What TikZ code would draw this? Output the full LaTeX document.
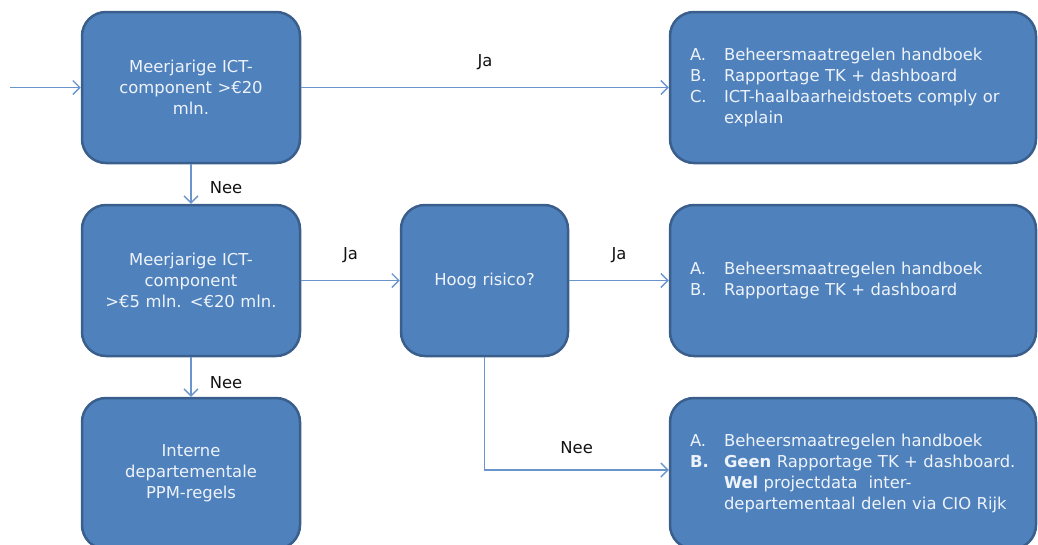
\documentclass[tikz,border=0pt]{standalone}
\usepackage{fontspec}
\setmainfont{DejaVu Sans}
\usetikzlibrary{arrows.meta}
\definecolor{boxfill}{HTML}{4F81BD}
\definecolor{boxline}{HTML}{3A5F8C}
\definecolor{connline}{HTML}{6A95CC}
\definecolor{boxtext}{HTML}{EEF3FA}
\definecolor{labtext}{HTML}{111111}
\tikzset{
  flowbox/.style={draw=boxline, fill=boxfill, line width=2.5pt, rounded corners=24pt,
    minimum height=151pt, text=boxtext, font=\fontsize{16.4}{21}\selectfont, align=center, inner sep=4pt},
  leftbox/.style={flowbox, minimum width=218pt, text width=204pt},
  midbox/.style={flowbox, minimum width=167pt, text width=150pt},
  rightbox/.style={flowbox, minimum width=366pt, text width=326pt, inner xsep=20pt, align=left},
  conn/.style={draw=connline, line width=1.5pt, -{Straight Barb[length=7pt,width=14pt,line width=1.4pt]}},
  lab/.style={text=labtext, font=\fontsize{16.4}{21}\selectfont, inner sep=0pt}
}
\newcommand{\itm}[1]{\makebox[34pt][l]{#1}}
\newcommand{\ind}{\hspace*{34pt}}
\begin{document}
\begin{tikzpicture}[x=1pt,y=-1pt]
\useasboundingbox (0,0) rectangle (1038,544);
\begin{scope}
\clip (0,0) rectangle (1038,544);
\node[leftbox] (b1) at (191,87.5) {Meerjarige ICT-\\component >€20\\mln.};
\node[leftbox] (b2) at (191,280.5) {Meerjarige ICT-\\component\\>€5 mln. <€20 mln.};
\node[leftbox] (b3) at (191,473.5) {Interne\\departementale\\PPM-regels};
\node[midbox] (hr) at (484.5,280.5) {Hoog risico?};
\node[rightbox] (r1) at (853,87.5) {\itm{A.}Beheersmaatregelen handboek\\\itm{B.}Rapportage TK + dashboard\\\itm{C.}ICT-haalbaarheidstoets comply or\\\ind explain};
\node[rightbox] (r2) at (853,280.5) {\itm{A.}Beheersmaatregelen handboek\\\itm{B.}Rapportage TK + dashboard};
\node[rightbox] (r3) at (853,473.5) {\itm{A.}Beheersmaatregelen handboek\\\itm{\textbf{B.}}\textbf{Geen} Rapportage TK + dashboard.\\\ind\textbf{Wel} projectdata\ \ inter-\\\ind departementaal delen via CIO Rijk};
\coordinate (in) at (10,87.5);
\draw[conn] (in) -- (b1);
\draw[conn] (b1) -- node[lab, yshift=25pt]{Ja} (r1);
\draw[conn] (b1) -- node[lab, anchor=west, xshift=18pt, yshift=-4pt]{Nee} (b2);
\draw[conn] (b2) -- node[lab, yshift=25pt]{Ja} (hr);
\draw[conn] (hr) -- node[lab, yshift=25pt]{Ja} (r2);
\draw[conn] (b2) -- node[lab, anchor=west, xshift=18pt, yshift=-6pt]{Nee} (b3);
\draw[conn] (hr.south) |- node[lab, pos=0.75, yshift=22pt]{Nee} ([yshift=3.5pt]r3.west);
\end{scope}
\end{tikzpicture}
\end{document}
